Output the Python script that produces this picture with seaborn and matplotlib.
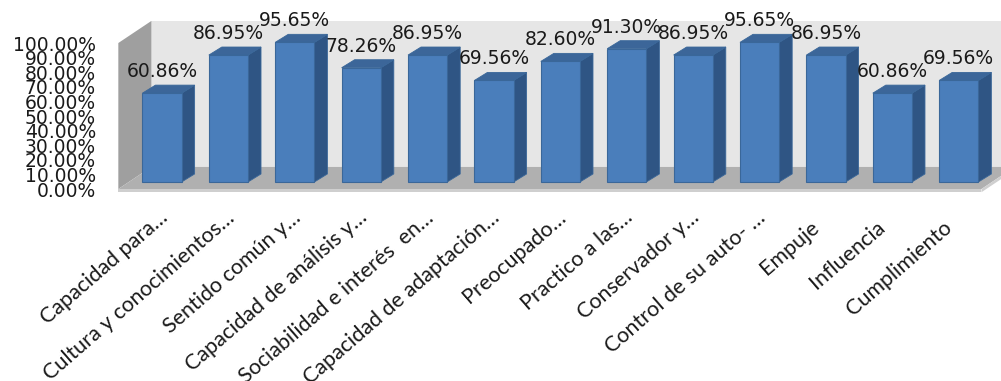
import numpy as np
import pandas as pd
import matplotlib
matplotlib.use("Agg")
import matplotlib.pyplot as plt
from matplotlib.patches import Polygon
from matplotlib.transforms import ScaledTranslation
import seaborn as sns

# --- data -------------------------------------------------------------
categories = [
    "Capacidad para…",
    "Cultura y conocimientos…",
    "Sentido común y…",
    "Capacidad de análisis y…",
    "Sociabilidad e interés  en…",
    "Capacidad de adaptación…",
    "Preocupado…",
    "Practico a las…",
    "Conservador y…",
    "Control de su auto- …",
    "Empuje   ",
    "Influencia   ",
    "Cumplimiento   ",
]
values = [60.86, 86.95, 95.65, 78.26, 86.95, 69.56, 82.60,
          91.30, 86.95, 95.65, 86.95, 60.86, 69.56]
value_labels = ["60.86%", "86.95%", "95.65%", "78.26%", "86.95%", "69.56%", "82.60%",
                "91.30%", "86.95%", "95.65%", "86.95%", "60.86%", "69.56%"]
y_ticks = [0, 10, 20, 30, 40, 50, 60, 70, 80, 90, 100]
y_tick_labels = ["0.00%", "10.00%", "20.00%", "30.00%", "40.00%", "50.00%",
                 "60.00%", "70.00%", "80.00%", "90.00%", "100.00%"]

df = pd.DataFrame({"categoria": categories, "valor": values})

# --- style ------------------------------------------------------------
sns.set_theme(style="white")
plt.rcParams["font.family"] = ["DejaVu Sans"]

FRONT = "#4A7EBB"
SIDE = "#2F5584"
TOP = "#3C6699"
EDGE = "#3A6799"
BACK_WALL = "#E6E6E6"
LEFT_WALL = "#9F9F9F"
FLOOR = "#B0B0B0"
FLOOR_EDGE = "#CFCFCF"

W, H = 1001, 381
fig = plt.figure(figsize=(W / 100, H / 100), dpi=100)
ax = fig.add_axes([100 / W, 181 / H, 901 / W, 200 / H])

# bars (front faces)
sns.barplot(data=df, x="categoria", y="valor", color=FRONT, width=0.59,
            saturation=1, edgecolor=EDGE, linewidth=0.8, ax=ax, zorder=3)

ax.set_xlim(-0.934, 12.636)
ax.set_ylim(-12.33, 124.66)

# pseudo 3-D geometry (data units)
ddx, ddy = 0.196, 5.5          # bar depth
fx, fy = -0.158, -4.8          # floor front edge relative to bar front plane
bx, by = 0.339, 10.3           # back wall plane
x0, x1 = -0.5, 12.5
thick = 2.2

def poly(pts, color, z, ec="none", lw=0):
    ax.add_patch(Polygon(pts, closed=True, facecolor=color, edgecolor=ec,
                         linewidth=lw, zorder=z))

# back wall and left wall
poly([(x0 + bx, by), (x1 + bx + 1, by), (x1 + bx + 1, 100 + by), (x0 + bx, 100 + by)],
     BACK_WALL, 0)
poly([(x0 + fx, fy), (x0 + bx, by), (x0 + bx, 100 + by), (x0 + fx, 100 + fy)],
     LEFT_WALL, 0.5)
# floor with a thin front edge
poly([(x0 + fx, fy), (x1 + fx, fy), (x1 + bx, by), (x0 + bx, by)], FLOOR, 1)
poly([(x0 + fx, fy), (x1 + fx, fy), (x1 + fx, fy - thick), (x0 + fx, fy - thick)],
     FLOOR_EDGE, 1)
poly([(x1 + fx, fy), (x1 + bx, by), (x1 + bx, by - thick), (x1 + fx, fy - thick)],
     FLOOR_EDGE, 1)

# side and top faces of each bar, plus the value labels
for p, lab in zip(ax.patches[:len(values)], value_labels):
    x, w, h = p.get_x(), p.get_width(), p.get_height()
    poly([(x + w, 0), (x + w + ddx, ddy), (x + w + ddx, h + ddy), (x + w, h)],
         SIDE, 2.5, EDGE, 0.6)
    poly([(x, h), (x + w, h), (x + w + ddx, h + ddy), (x + ddx, h + ddy)],
         TOP, 2.5, EDGE, 0.6)
    ax.annotate(lab, (x + w / 2, h + ddy), xytext=(0, 3), textcoords="offset points",
                ha="center", va="bottom", fontsize=13.5, color="#1a1a1a", zorder=5)

# value axis sits on the floor front edge
ax.set_yticks([t + fy for t in y_ticks])
ax.set_yticklabels(y_tick_labels, fontsize=13.5, color="#1a1a1a")
ax.tick_params(axis="y", length=0, pad=3)

ax.set_xticks(range(len(categories)))
ax.set_xticklabels(categories, rotation=41, ha="right", va="baseline",
                   rotation_mode="anchor", fontsize=15.5, family=["Lato", "DejaVu Sans"],
                   color="#1a1a1a")
ax.tick_params(axis="x", length=0, pad=14)
shift = ScaledTranslation(7 / 100, 0, fig.dpi_scale_trans)
for t in ax.get_xticklabels():
    t.set_transform(t.get_transform() + shift)

ax.set_xlabel("")
ax.set_ylabel("")
for s in ax.spines.values():
    s.set_visible(False)
ax.patch.set_alpha(0)

fig.savefig("out.png", dpi=100, facecolor="white")
